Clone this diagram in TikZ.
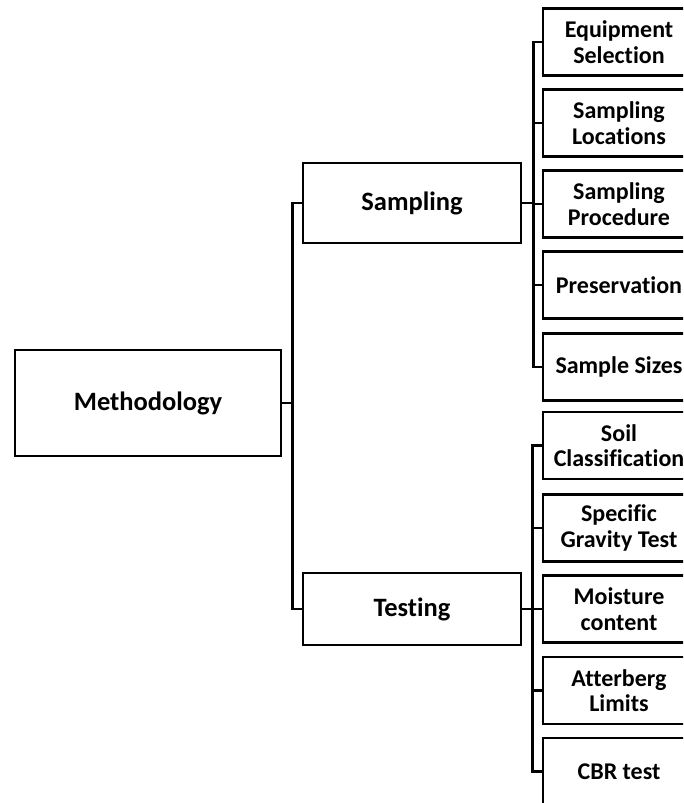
\documentclass[tikz,border=0pt]{standalone}
\usepackage{fontspec}
\setmainfont[Ligatures=NoCommon]{Carlito}

\begin{document}
\begin{tikzpicture}[x=1pt, y=-1pt, line width=2.6pt,
    mainbox/.style={draw, align=center, inner sep=0pt, font=\fontsize{26.5}{30}\selectfont\bfseries},
    subbox/.style={draw, align=center, inner sep=0pt, minimum width=152pt, minimum height=67pt, font=\fontsize{24}{25.5}\selectfont\bfseries}]
            \useasboundingbox (0,0) rectangle (683,803);
            \clip (0,0) rectangle (683,803);

            % Root box
            \node[mainbox, minimum width=266pt, minimum height=106pt] (meth) at (148,403) {Methodology};

            % Second level
            \node[mainbox, minimum width=218pt, minimum height=80pt] (samp) at (412,203) {Sampling};
            \node[mainbox, minimum width=218pt, minimum height=72pt] (test) at (412,609) {Testing};

            % Sampling steps
            \node[subbox] (equip) at (619,42) {Equipment\\Selection};
            \node[subbox] (loc) at (619,123) {Sampling\\Locations};
            \node[subbox] (proc) at (619,204) {Sampling\\Procedure};
            \node[subbox] (pres) at (619,285) {Preservation};
            \node[subbox] (size) at (619,367) {Sample Sizes};

            % Testing steps
            \node[subbox] (soil) at (619,445.5) {Soil\\Classification};
            \node[subbox] (grav) at (619,528) {Specific\\Gravity Test};
            \node[subbox] (moist) at (619,609) {Moisture\\content};
            \node[subbox] (atter) at (619,690.5) {Atterberg\\Limits};
            \node[subbox] (cbr) at (619,771.5) {CBR test};

            % Connectors
            \draw (meth.east) -- ++(10,0) |- (samp.west);
            \draw (meth.east) -- ++(10,0) |- (test.west);
            \draw (samp.east) -- ++(11,0) |- (equip.west);
            \draw (samp.east) -- ++(11,0) |- (loc.west);
            \draw (samp.east) -- ++(11,0) |- (proc.west);
            \draw (samp.east) -- ++(11,0) |- (pres.west);
            \draw (samp.east) -- ++(11,0) |- (size.west);
            \draw (test.east) -- ++(10,0) |- (soil.west);
            \draw (test.east) -- ++(10,0) |- (grav.west);
            \draw (test.east) -- ++(10,0) |- (moist.west);
            \draw (test.east) -- ++(10,0) |- (atter.west);
            \draw (test.east) -- ++(10,0) |- (cbr.west);
        \end{tikzpicture}
\end{document}
